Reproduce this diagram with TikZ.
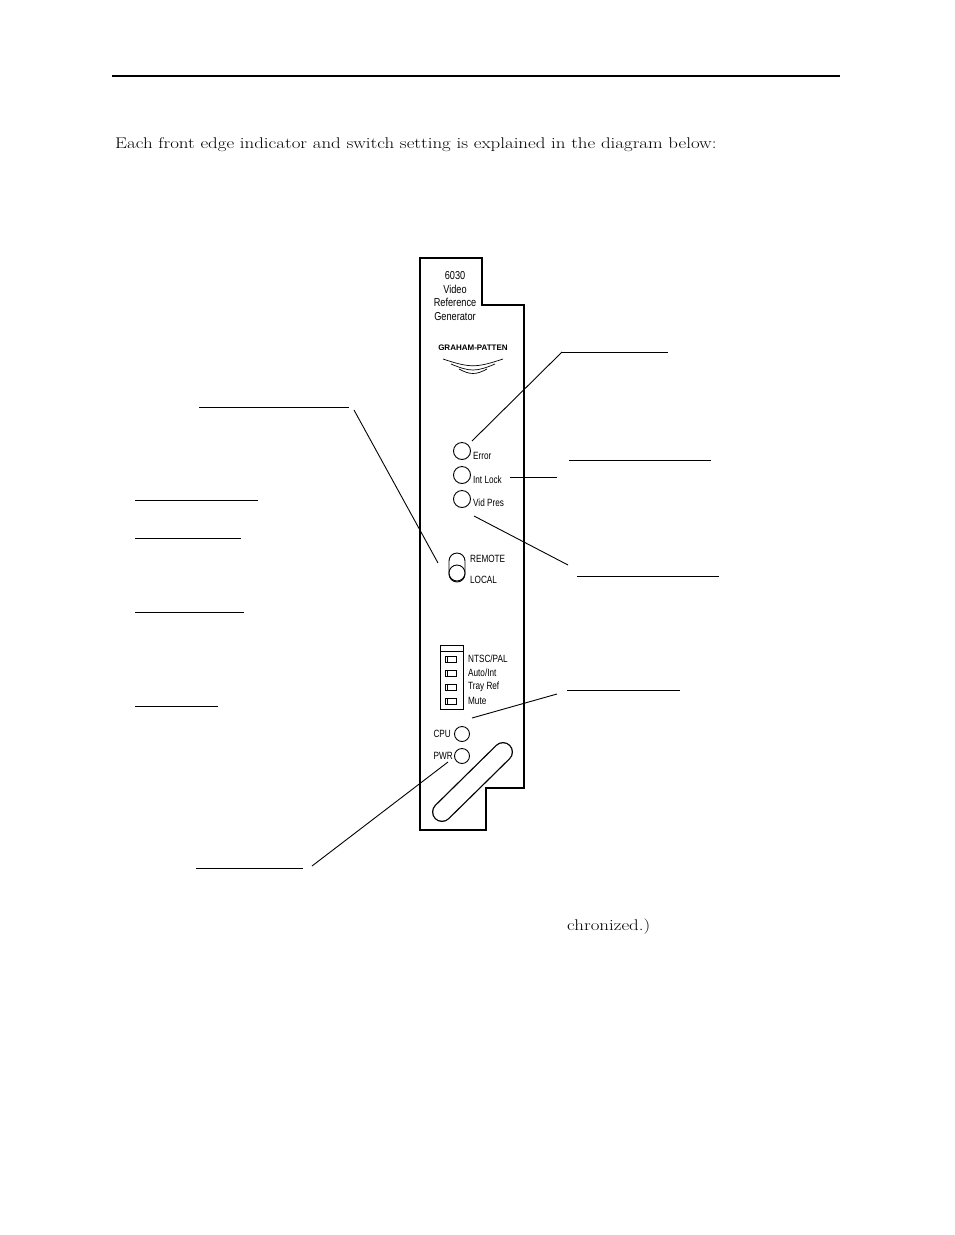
\documentclass[tikz,border=0pt]{standalone}
\usepackage{fontspec}
\newfontfamily\panelfont{Liberation Sans}
\begin{document}
\begin{tikzpicture}[x=1pt,y=-1pt,
    lead/.style={line width=0.9pt},
    led/.style={circle,draw,line width=0.9pt,minimum size=17pt,inner sep=0pt},
    tag/.style={font=\panelfont\fontsize{10.5}{11}\selectfont,inner sep=0pt,anchor=west,xscale=0.78},
    dip/.style={draw,line width=0.6pt,minimum width=11pt,minimum height=6pt,inner sep=0pt}]
    \useasboundingbox (0,0) rectangle (954,1235);

    % Header
    \draw[line width=2pt] (112,76) -- (840,76);
    \node[anchor=base west,inner sep=0pt,font=\fontsize{15.5}{18}\selectfont,xscale=1.22] (intro) at (115,148)
        {Each front edge indicator and switch setting is explained in the diagram below:};

    % Panel
    \draw[line width=1.3pt] (420,258) -- (482,258) -- (482,305) -- (524,305) -- (524,788)
        -- (486,788) -- (486,830) -- (420,830) -- cycle;
    \node[align=center,font=\panelfont\fontsize{11.5}{13.5}\selectfont,inner sep=0pt,xscale=0.8] (title) at (455,296)
        {6030\\Video\\Reference\\Generator};
    \node[font=\panelfont\bfseries\fontsize{8}{9}\selectfont,inner sep=0pt] (logo) at (473,348) {GRAHAM-PATTEN};
    \draw[line width=0.7pt] (443,359) .. controls (470,368) and (476,368) .. (503,359);
    \draw[line width=0.7pt] (451,364) .. controls (470,372) and (476,372) .. (495,364);
    \draw[line width=0.7pt] (459,369) .. controls (470,375) and (476,375) .. (487,369);

    % LEDs
    \node[led] (err) at (462,451) {};
    \node[led] (lock) at (462,475) {};
    \node[led] (vid) at (462,499) {};
    \node[tag] at (473,456) {Error};
    \node[tag] at (473,480) {Int Lock};
    \node[tag] at (473,503) {Vid Pres};

    % Toggle switch
    \draw[line width=0.9pt,rounded corners=8pt] (449,553) rectangle (465,582);
    \node[circle,draw,line width=0.9pt,minimum size=16pt,inner sep=0pt,fill=white] (toggle) at (457,573) {};
    \node[tag] at (470,559) {REMOTE};
    \node[tag] at (470,580) {LOCAL};

    % DIP switches
    \draw[line width=0.9pt] (440,645) rectangle (463,709);
    \draw[line width=0.9pt] (440,651) -- (463,651);
    \foreach \y/\txt in {659/{NTSC/PAL},673/{Auto/Int},687/{Tray Ref},701/{Mute}} {
        \node[dip] at (451,\y) {};
        \draw[line width=0.6pt] (447,\y-3) -- (447,\y+3);
        \node[tag] at (468,\y) {\txt};
    }

    % CPU and PWR
    \node[led,minimum size=15pt] (cpu) at (462,734) {};
    \node[led,minimum size=15pt] (pwr) at (462,756) {};
    \node[tag,anchor=east] at (451,734) {CPU};
    \node[tag,anchor=east] at (453,756) {PWR};

    % Slot
    \draw[line width=20pt,line cap=round] (442,812) -- (503,752);
    \draw[white,line width=17.4pt,line cap=round] (442,812) -- (503,752);

    % Leaders
    \coordinate (l1) at (199,407); \coordinate (l1e) at (349,407);
    \coordinate (r1) at (562,352); \coordinate (r1e) at (668,352);
    \coordinate (r2) at (569,460); \coordinate (r2e) at (711,460);
    \coordinate (r3) at (577,576); \coordinate (r3e) at (719,576);
    \coordinate (r4) at (567,690); \coordinate (r4e) at (680,690);
    \coordinate (b1) at (196,868); \coordinate (b1e) at (303,868);
    \draw[lead] (l1) -- (l1e);
    \draw[lead] (354,410) -- (438,563);
    \draw[lead] (r1) -- (r1e);
    \draw[lead] (r1) -- (472,441);
    \draw[lead] (r2) -- (r2e);
    \draw[lead] (557,477) -- (510,477);
    \draw[lead] (r3) -- (r3e);
    \draw[lead] (568,565) -- (474,516);
    \draw[lead] (r4) -- (r4e);
    \draw[lead] (557,694) -- (472,718);
    \draw[lead] (b1) -- (b1e);
    \draw[lead] (312,866) -- (448,762);
    \foreach \y/\w in {500/258,538/241,612/244,706/218} \draw[lead] (135,\y) -- (\w,\y);

    \node[anchor=base west,inner sep=0pt,font=\fontsize{15.5}{18}\selectfont,xscale=1.22] (tail) at (567,930) {chronized.)};
\end{tikzpicture}
\end{document}
